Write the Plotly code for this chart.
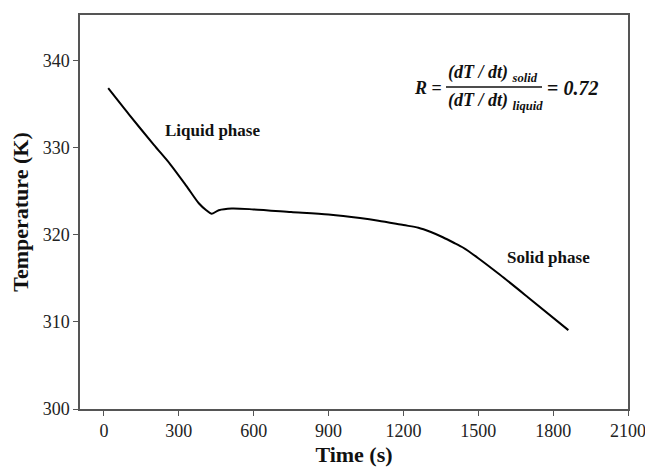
import plotly.graph_objects as go

time_s = [17, 100, 200, 265, 330, 380, 410, 431, 460, 512, 600, 750, 900, 1026,
          1100, 1200, 1260, 1310, 1358, 1400, 1440, 1500, 1587, 1700, 1861]
temp_k = [336.8, 333.8, 330.3, 328.1, 325.6, 323.6, 322.8, 322.4, 322.8, 323.0,
          322.9, 322.6, 322.3, 321.9, 321.6, 321.1, 320.8, 320.3, 319.7, 319.1, 318.5,
          317.3, 315.4, 312.8, 309.05]
x_ticks = [0, 300, 600, 900, 1200, 1500, 1800, 2100]
y_ticks = [300, 310, 320, 330, 340]

FONT = "Liberation Serif"

fig = go.Figure()
fig.add_trace(go.Scatter(x=time_s, y=temp_k, mode="lines",
                         line=dict(color="black", width=2, shape="spline", smoothing=0.8),
                         showlegend=False, hoverinfo="skip"))

axis_common = dict(showgrid=False, zeroline=False, showline=True, linecolor="#555555",
                   linewidth=1.5, mirror=True, ticks="outside", ticklen=5, tickwidth=1.3,
                   tickcolor="#555555", ticklabeloverflow="allow", automargin=False,
                   tickfont=dict(family=FONT, size=18, color="#222"))

fig.update_xaxes(range=[-96, 2100], tickvals=x_ticks,
                 title=dict(text="<b>Time (s)</b>", font=dict(family=FONT, size=22, color="#111"),
                            standoff=6), **axis_common)
fig.update_yaxes(range=[300, 345.2], tickvals=y_ticks,
                 title=dict(text="<b>Temperature (K)</b>", font=dict(family=FONT, size=22, color="#111"),
                            standoff=8), **axis_common)

W, H = 645, 472
L, R, T, B = 80, 17, 15, 63
PW, PH = W - L - R, H - T - B

def px(x):
    return (x - L) / PW

def py(y):
    return (H - B - y) / PH

ann = []
lbl_font = dict(family=FONT, size=17, color="#111")
ann.append(dict(x=px(212), y=py(130), text="<b>Liquid phase</b>", font=lbl_font))
ann.append(dict(x=px(548), y=py(257), text="<b>Solid phase</b>", font=lbl_font))

eq_font = dict(family=FONT, size=18, color="#111")
ann.append(dict(x=px(444), y=py(88), xanchor="right", text="<b><i>R</i> =</b>", font=eq_font))
ann.append(dict(x=px(446), y=py(74), xanchor="left",
                text="<b><i>(dT / dt)</i></b> <sub><b><i>solid</i></b></sub>", font=eq_font))
ann.append(dict(x=px(446), y=py(101), xanchor="left",
                text="<b><i>(dT / dt)</i></b> <sub><b><i>liquid</i></b></sub>", font=eq_font))
ann.append(dict(x=px(545), y=py(88), xanchor="left", text="<b>= <i>0.72</i></b>",
                font=dict(family=FONT, size=20, color="#111")))
for a in ann:
    a.update(xref="paper", yref="paper", showarrow=False)
    a.setdefault("xanchor", "center")
    a.setdefault("yanchor", "middle")

fig.update_layout(
    width=W, height=H, margin=dict(l=L, r=R, t=T, b=B),
    paper_bgcolor="white", plot_bgcolor="white",
    annotations=ann,
    shapes=[dict(type="line", xref="paper", yref="paper", x0=px(446), x1=px(542),
                 y0=py(87), y1=py(87), line=dict(color="#111", width=1.3))],
)

fig.write_html("out.html")
